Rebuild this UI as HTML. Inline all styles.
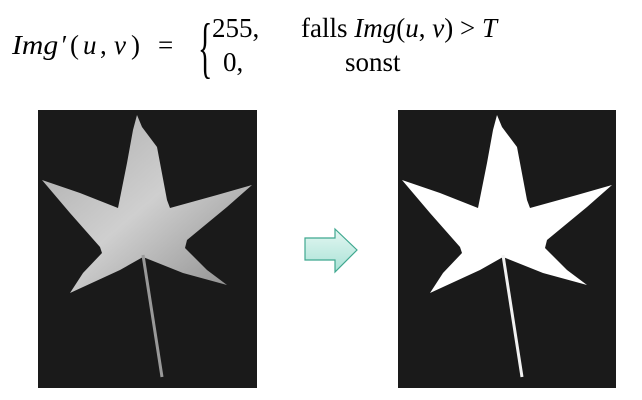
<!DOCTYPE html>
<html><head><meta charset="utf-8"><style>
html,body{margin:0;padding:0;background:#fff;}
body{width:642px;height:400px;overflow:hidden;position:relative;}
svg{position:absolute;left:0;top:0;}
text{font-family:"Liberation Serif",serif;fill:#000;}
.i{font-style:italic;}
</style></head><body>
<svg width="642" height="400" viewBox="0 0 642 400">
<defs>
<linearGradient id="g" x1="0" y1="0" x2="1" y2="1"><stop offset="0" stop-color="#a8a8a8"/><stop offset="0.5" stop-color="#cfcfcf"/><stop offset="1" stop-color="#8a8a8a"/></linearGradient>
<linearGradient id="ag" x1="0" y1="0" x2="0" y2="1"><stop offset="0" stop-color="#e4f7f2"/><stop offset="1" stop-color="#a9e2d6"/></linearGradient>
</defs>
<g font-size="27">
<text x="0" y="0" class="i" transform="translate(12,54) scale(1.1,1)">Img</text>
<text x="60" y="54" class="i">′</text>
<text x="70" y="54">(</text>
<text x="83" y="54" class="i">u</text>
<text x="100" y="54">,</text>
<text x="114" y="54" class="i">v</text>
<text x="131" y="54">)</text>
<text x="158" y="54">=</text>
<text x="0" y="0" font-size="40" transform="translate(198,70) scale(0.75,1.7)">{</text>
<text x="212" y="37">255,</text>
<text x="223" y="71">0,</text>
<text x="301" y="37">falls <tspan class="i">Img</tspan>(<tspan class="i">u</tspan>, <tspan class="i">v</tspan>) &gt; <tspan class="i">T</tspan></text>
<text x="345" y="71">sonst</text>
</g>
<g>
<rect x="38" y="110" width="219" height="278" fill="#1a1a1a"/>
<polygon fill="url(#g)" points="137,115 142,127 157,147 167,200 170,208 217,195 252,185 227,207 187,240 185,248 207,270 227,285 183,273 143,257 120,270 70,293 83,273 102,253 100,247 70,213 42,180 80,193 118,208 127,163 133,130"/>
<line x1="143" y1="255" x2="162" y2="377" stroke="#999" stroke-width="3"/>
</g>
<g>
<polygon points="305,238 335,238 335,229 357,250 335,272 335,260 305,260" fill="url(#ag)" stroke="#3fa88f" stroke-width="1.2"/>
</g>
<g>
<rect x="398" y="110" width="218" height="278" fill="#1a1a1a"/>
<g transform="translate(360,0)">
<polygon fill="#fff" points="137,115 142,127 157,147 167,200 170,208 217,195 252,185 227,207 187,240 185,248 207,270 227,285 183,273 143,257 120,270 70,293 83,273 102,253 100,247 70,213 42,180 80,193 118,208 127,163 133,130"/>
<line x1="143" y1="255" x2="162" y2="377" stroke="#f2f2f2" stroke-width="3"/>
</g>
</g>
</svg>
</body></html>
